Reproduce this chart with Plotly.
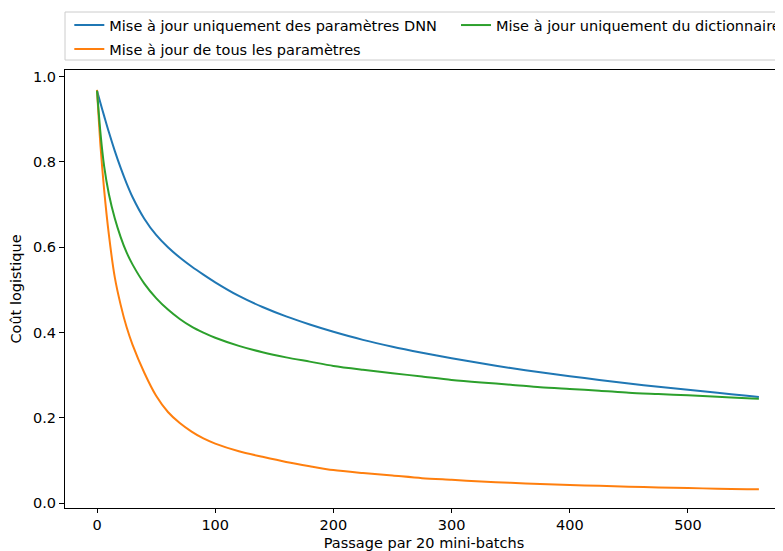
import plotly.graph_objects as go

x_vals = [0, 3, 6, 10, 15, 20, 25, 30, 40, 50, 60, 70, 80, 90, 100, 120, 140, 160, 180, 200,
          225, 250, 275, 300, 325, 350, 375, 400, 425, 450, 475, 500, 525, 550, 560]

dnn_only = [0.967, 0.937, 0.908, 0.870, 0.826, 0.786, 0.750, 0.718, 0.667, 0.629, 0.600, 0.576,
            0.555, 0.536, 0.518, 0.486, 0.460, 0.438, 0.419, 0.402, 0.383, 0.367, 0.353, 0.340,
            0.328, 0.317, 0.307, 0.298, 0.289, 0.281, 0.273, 0.266, 0.259, 0.252, 0.249]

all_params = [0.969, 0.835, 0.735, 0.630, 0.530, 0.465, 0.413, 0.372, 0.306, 0.252, 0.214, 0.188,
              0.168, 0.152, 0.140, 0.122, 0.109, 0.097, 0.087, 0.078, 0.071, 0.065, 0.059, 0.055,
              0.051, 0.048, 0.045, 0.043, 0.041, 0.039, 0.037, 0.036, 0.034, 0.033, 0.033]

dict_only = [0.967, 0.865, 0.790, 0.725, 0.668, 0.624, 0.588, 0.560, 0.515, 0.481, 0.454, 0.432,
             0.414, 0.400, 0.388, 0.369, 0.354, 0.342, 0.332, 0.322, 0.313, 0.305, 0.297, 0.289,
             0.283, 0.278, 0.272, 0.268, 0.264, 0.259, 0.256, 0.253, 0.250, 0.246, 0.245]

names = ["Mise à jour uniquement des paramètres DNN",
         "Mise à jour de tous les paramètres",
         "Mise à jour uniquement du dictionnaire"]
colors = ["#1f77b4", "#ff7f0e", "#2ca02c"]
legend_ids = ["legend", "legend", "legend2"]
groups = ["g1", "g2", "g3"]
series = [dnn_only, all_params, dict_only]

x_ticks = [0, 100, 200, 300, 400, 500]
y_ticks = [0.0, 0.2, 0.4, 0.6, 0.8, 1.0]

fig = go.Figure()
for name, col, lg, grp, ys in zip(names, colors, legend_ids, groups, series):
    fig.add_trace(go.Scatter(x=x_vals, y=ys, mode="lines", name=name,
                             line=dict(color=col, width=2, shape="spline", smoothing=0.8),
                             legend=lg, legendgroup=grp))

font = dict(family="DejaVu Sans", size=14.5, color="black")

# page body adds an 8px offset; figure is 775x543, plot area 718x438
leg_common = dict(orientation="v", yanchor="top", xanchor="left",
                  bgcolor="rgba(0,0,0,0)", borderwidth=0, font=font,
                  tracegroupgap=2, traceorder="grouped")

fig.update_layout(
    width=775, height=543,
    margin=dict(l=57, r=0, t=62, b=43, autoexpand=False),
    paper_bgcolor="white", plot_bgcolor="white",
    font=font,
    showlegend=True,
    legend=dict(x=0.006, y=1.139, **leg_common),
    legend2=dict(x=0.5446, y=1.139, **leg_common),
    shapes=[dict(type="rect", xref="paper", yref="paper",
                 x0=0.0, x1=1.05, y0=1 + 10 / 438, y1=1 + 58 / 438,
                 line=dict(color="#cccccc", width=1), fillcolor="white", layer="below")],
    xaxis=dict(range=[-27.1, 580.4], tickvals=x_ticks, ticktext=[str(v) for v in x_ticks],
               showgrid=False, zeroline=False, showline=True, linecolor="black", linewidth=1,
               mirror=True, ticks="outside", ticklen=4, tickcolor="black",
               ticklabelstandoff=0,
               title=dict(text="Passage par 20 mini-batchs", standoff=17, font=font)),
    yaxis=dict(range=[-0.011, 1.0155], tickvals=y_ticks, ticktext=[f"{v:.1f}" for v in y_ticks],
               showgrid=False, zeroline=False, showline=True, linecolor="black", linewidth=1,
               mirror=False, ticks="outside", ticklen=5, tickcolor="black",
               ticklabelstandoff=0,
               title=dict(text="Coût logistique", standoff=12, font=font)),
)

fig.write_html("out.html")
